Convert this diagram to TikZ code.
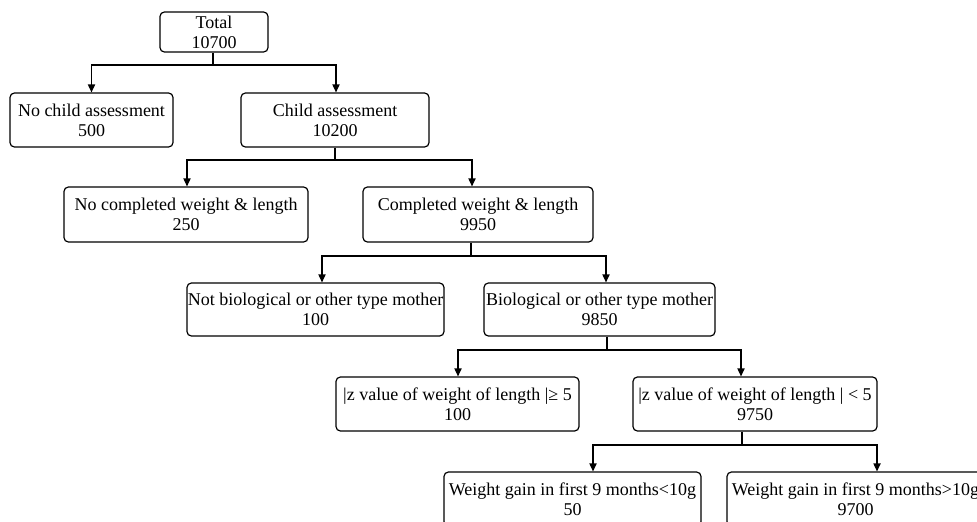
\documentclass[tikz,border=0pt]{standalone}
\usepackage{fontspec}
\setmainfont{Liberation Serif}
\usetikzlibrary{arrows.meta}
\tikzset{
  box/.style={draw, line width=0.6pt, rounded corners=2.2pt, inner sep=0pt, align=center,
    font=\fontsize{9}{10}\selectfont},
  line/.style={line width=0.6pt},
  arr/.style={line width=0.6pt, -{Triangle[length=4pt,width=3.6pt]}}
}
\newcommand{\tl}[2]{\makebox[0pt]{#1}\\\makebox[0pt]{#2}}
\begin{document}
\begin{tikzpicture}[x=0.5pt,y=-0.5pt]
\useasboundingbox (0,0) rectangle (977,521);
\clip (0,0) rectangle (977,521);
% boxes
\node[box, minimum width=54pt, minimum height=20pt] (total) at (214,32) {\tl{Total}{10700}};
\node[box, minimum width=81.5pt, minimum height=27pt] (nochild) at (91.5,120) {\tl{No child assessment}{500}};
\node[box, minimum width=94pt, minimum height=27pt] (child) at (335,120) {\tl{Child assessment}{10200}};
\node[box, minimum width=122pt, minimum height=27.5pt] (nocomp) at (186,214.5) {\tl{No completed weight \& length}{250}};
\node[box, minimum width=115pt, minimum height=27.5pt] (comp) at (478,214.5) {\tl{Completed weight \& length}{9950}};
\node[box, minimum width=128.5pt, minimum height=26.5pt] (notbio) at (315.5,309.5) {\tl{Not biological or other type mother}{100}};
\node[box, minimum width=115.5pt, minimum height=26.5pt] (bio) at (599.5,309.5) {\tl{Biological or other type mother}{9850}};
\node[box, minimum width=121.5pt, minimum height=27pt] (zge) at (457.5,404) {\tl{|z value of weight of length |≥ 5}{100}};
\node[box, minimum width=122pt, minimum height=27pt] (zlt) at (755,404) {\tl{|z value of weight of length | < 5}{9750}};
\node[box, minimum width=128.5pt, minimum height=27pt] (wlt) at (572.5,499) {\tl{Weight gain in first 9 months<10g}{50}};
\node[box, minimum width=128.5pt, minimum height=27pt] (wgt) at (855.5,499) {\tl{Weight gain in first 9 months>10g}{9700}};
% junctions
\coordinate (jT) at (213,65);
\coordinate (jC) at (335,160);
\coordinate (jM) at (471,256);
\coordinate (jB) at (607,350);
\coordinate (jZ) at (742,445);
% connectors
\draw[line] (total.south -| jT) -- (jT);
\draw[arr] (jT) -| (nochild.north);
\draw[arr] (jT) -| ([xshift=0.5pt]child.north);
\draw[line] (child.south -| jC) -- (jC);
\draw[arr] (jC) -| ([xshift=0.5pt]nocomp.north);
\draw[arr] (jC) -| ([xshift=-3pt]comp.north);
\draw[line] (comp.south -| jM) -- (jM);
\draw[arr] (jM) -| ([xshift=3.25pt]notbio.north);
\draw[arr] (jM) -| ([xshift=3.25pt]bio.north);
\draw[line] (bio.south -| jB) -- (jB);
\draw[arr] (jB) -| ([xshift=0.25pt]zge.north);
\draw[arr] (jB) -| ([xshift=-7pt]zlt.north);
\draw[line] (zlt.south -| jZ) -- (jZ);
\draw[arr] (jZ) -| ([xshift=10.25pt]wlt.north);
\draw[arr] (jZ) -| ([xshift=10.75pt]wgt.north);
\end{tikzpicture}
\end{document}
